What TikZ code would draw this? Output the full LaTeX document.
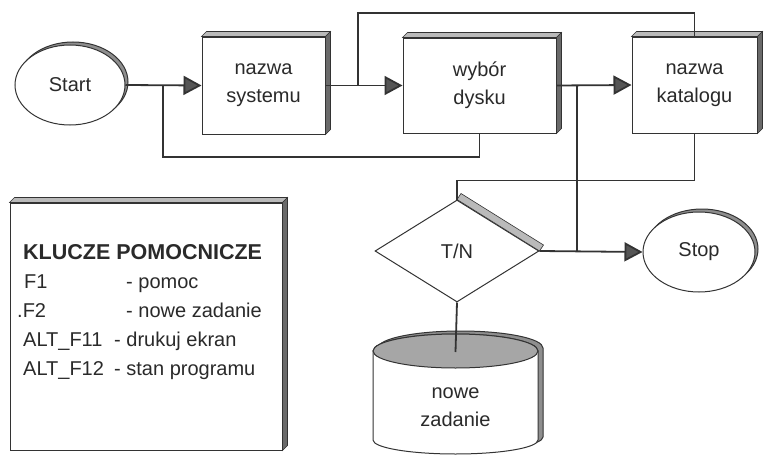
\documentclass[tikz,border=0pt]{standalone}
\usepackage{fontspec}
\setmainfont{Liberation Sans}
\usetikzlibrary{shapes.geometric,calc,arrows.meta}
\definecolor{inkc}{HTML}{333333}
\definecolor{textc}{HTML}{2A2A2A}
\definecolor{lightshade}{HTML}{BABABA}
\definecolor{darkshade}{HTML}{6A6A6A}
\definecolor{midshade}{HTML}{8E8E8E}
\definecolor{arrowc}{HTML}{555555}
\definecolor{dbfill}{HTML}{A6A6A6}
% raised rim (top and right edge) of a rectangular box node
\newcommand\boxrim[1]{%
  \filldraw[rimtop] (#1.north west) -- ++(5,-5) -- ($(#1.north east)+(5,-5)$) -- (#1.north east) -- cycle;
  \filldraw[rimside] (#1.north east) -- ++(5,-5) -- ($(#1.south east)+(5,-5)$) -- (#1.south east) -- cycle;}
\begin{document}
\begin{tikzpicture}[x=1pt,y=-1pt,
  every node/.style={text=textc, font=\fontsize{20}{28}\selectfont},
  proc/.style={draw=inkc, line width=1pt, fill=white, rectangle, align=center, inner sep=0pt},
  term/.style={draw=inkc, line width=1pt, fill=white, ellipse, inner sep=0pt},
  rimtop/.style={draw=inkc, line width=0.6pt, fill=lightshade},
  rimside/.style={draw=inkc, line width=0.6pt, fill=darkshade},
  termshade/.style={draw=inkc, line width=1pt, fill=midshade},
  link/.style={draw=inkc, line width=1.8pt},
  flow/.style={link, -{Triangle[length=18pt,width=19pt,fill=arrowc]}},
  keytext/.style={anchor=base west, inner sep=0pt},
]
\useasboundingbox (0,0) rectangle (764,455);

% terminal ellipses with their shadow
\filldraw[termshade] (73,82) ellipse [x radius=55, y radius=40];
\node[term, minimum width=110pt, minimum height=80pt] (start) at (70,85) {Start};
\filldraw[termshade] (702,249) ellipse [x radius=56, y radius=40];
\node[term, minimum width=112pt, minimum height=80pt] (stop) at (699,252) {Stop};

% process boxes
\node[proc, minimum width=123pt, minimum height=97pt] (sys) at (263.5,85.5) {nazwa\\systemu};
\boxrim{sys}
\node[proc, minimum width=153pt, minimum height=95pt] (wyb) at (479.5,85.5) {wybór\\dysku};
\boxrim{wyb}
\node[proc, minimum width=125pt, minimum height=96pt] (kat) at (694.5,85) {nazwa\\katalogu};
\boxrim{kat}

% decision
\node[draw=inkc, line width=1pt, fill=white, diamond, inner sep=0pt,
      minimum width=164pt, minimum height=102pt] (tn) at (457,251) {T/N};
\filldraw[rimtop] (tn.north) -- ++(4,-6) -- ($(tn.east)+(4,-6)$) -- (tn.east) -- cycle;

% data store cylinder
\filldraw[termshade] (378,348) -- (378,437)
  arc[start angle=180, end angle=0, x radius=82.5, y radius=14] -- (543,348)
  arc[start angle=360, end angle=180, x radius=82.5, y radius=17] -- cycle;
\filldraw[draw=inkc, line width=1pt, fill=white] (373,351) -- (373,440)
  arc[start angle=180, end angle=0, x radius=82.5, y radius=14] -- (538,351)
  arc[start angle=360, end angle=180, x radius=82.5, y radius=17] -- cycle;
\filldraw[draw=inkc, line width=1pt, fill=dbfill] (455.5,351) ellipse [x radius=82.5, y radius=17];
\node[align=center, inner sep=0pt] (db) at (455.5,407) {nowe\\zadanie};
\coordinate (dbtop) at (455.5,352);

% legend
\node[proc, minimum width=272pt, minimum height=247pt] (leg) at (146,326.5) {};
\boxrim{leg}
\node[keytext, font=\bfseries\fontsize{21.5}{26}\selectfont] (lhead) at (23,259) {KLUCZE POMOCNICZE};
\node[keytext] (k1) at (24,288) {F1};
\node[keytext] (d1) at (126,288) {- pomoc};
\node[keytext] (k2) at (17,317) {.F2};
\node[keytext] (d2) at (126,317) {- nowe zadanie};
\node[keytext] (k3) at (23,346) {ALT\_F11};
\node[keytext] (d3) at (114,346) {- drukuj ekran};
\node[keytext] (k4) at (23,375) {ALT\_F12};
\node[keytext] (d4) at (114,375) {- stan programu};

% branch points on the main line
\coordinate (j1) at (163,85);
\coordinate (j2) at (358,85);
\coordinate (j3) at (577,85);

% connectors
\draw[flow] (start.east) -- (sys.west);
\draw[flow] (sys.east) -- (wyb.west);
\draw[flow] (wyb.east) -- (kat.west);
\draw[link] (j1) -- ++(0,72) -| (wyb.south);
\draw[link] (j2) -- ++(0,-72) -| (kat.north);
\draw[link] (j3) -- (j3 |- tn.east);
\draw[link] (kat.south) -- ++(0,47) -| (tn.north);
\draw[flow] (tn.east) -- (stop.west);
\draw[link] (tn.south) -- (dbtop);
\end{tikzpicture}
\end{document}
